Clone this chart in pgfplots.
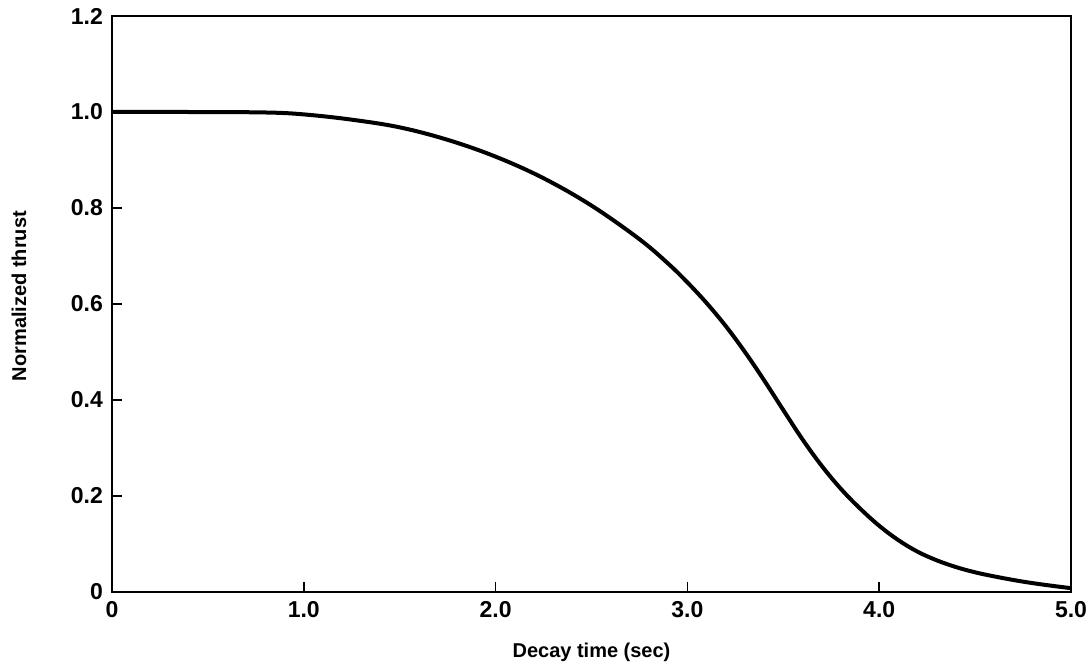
\documentclass[border=0pt]{standalone}
\usepackage{pgfplots}
\pgfplotsset{compat=1.18}
\usepackage{fontspec}
\setmainfont{Liberation Sans}
\begin{document}
\begin{tikzpicture}
\begin{axis}[
  name=ax,
  scale only axis,
  width=479.5pt, height=288pt,
  xmin=0, xmax=5, ymin=0, ymax=1.2,
  axis line style={line width=1.3pt},
  xtick={0,1,2,3,4,5},
  xticklabels={0,1.0,2.0,3.0,4.0,5.0},
  ytick={0,0.2,0.4,0.6,0.8,1.0,1.2},
  yticklabels={0,0.2,0.4,0.6,0.8,1.0,1.2},
  xtick pos=bottom, ytick pos=left,
  tick align=inside,
  major tick length=5pt,
  tick style={line width=0.8pt, black},
  /pgf/number format/assume math mode=true,
  ticklabel style={font=\fontsize{11.5}{13}\selectfont\bfseries},
  xticklabel style={yshift=-1pt},
  yticklabel style={xshift=-1pt},
  xlabel={Decay time (sec)},
  ylabel={Normalized thrust},
  label style={font=\fontsize{10}{12}\selectfont\bfseries},
  xlabel style={at={(axis description cs:0.5,0)}, anchor=center, yshift=-30pt},
  ylabel style={at={(axis description cs:0,0.5)}, anchor=center, rotate=0, yshift=46.5pt, xshift=4pt},
]
\addplot[black, line width=2pt, smooth, tension=0.6] coordinates {
(0,1.0) (0.4,1.0) (0.8,0.999) (1.0,0.995) (1.25,0.984) (1.5,0.968) (1.75,0.942)
(2.0,0.907) (2.25,0.862) (2.5,0.805) (2.75,0.735) (2.9,0.684) (3.0,0.645) (3.1,0.602)
(3.2,0.554) (3.3,0.500) (3.4,0.441) (3.5,0.379) (3.6,0.318) (3.7,0.263)
(3.8,0.215) (3.9,0.174) (4.0,0.138) (4.1,0.108) (4.2,0.084) (4.3,0.066)
(4.4,0.052) (4.5,0.041) (4.6,0.0325) (4.7,0.025) (4.8,0.0185) (4.9,0.013) (5.0,0.008)
};
\end{axis}
\pgfresetboundingbox
\path ([shift={(-56pt,-36.5pt)}]ax.south west) rectangle ([shift={(10.5pt,8pt)}]ax.north east);
\end{tikzpicture}
\end{document}
